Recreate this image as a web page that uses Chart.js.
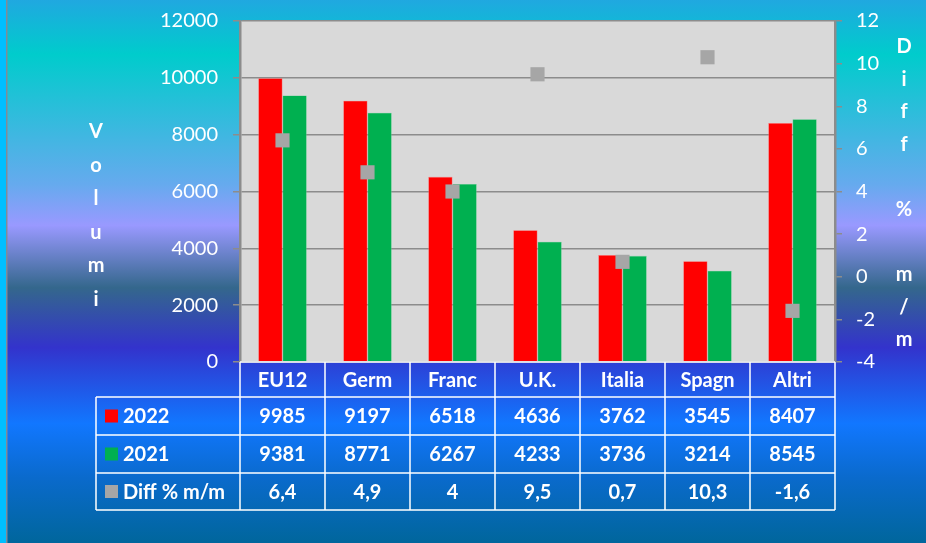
<!DOCTYPE html>
<html>
<head>
<meta charset="utf-8">
<script src="https://cdn.jsdelivr.net/npm/chart.js@4.4.1/dist/chart.umd.min.js"></script>
<style>
  html, body { margin: 0; padding: 0; background: #0066a0; }
  #wrap { width: 926px; height: 543px; position: relative; }
</style>
</head>
<body>
<div id="wrap"><canvas id="c" width="926" height="543"></canvas></div>
<script>
const categories = ["EU12", "Germ", "Franc", "U.K.", "Italia", "Spagn", "Altri"];
const vol2022 = [9985, 9197, 6518, 4636, 3762, 3545, 8407];
const vol2021 = [9381, 8771, 6267, 4233, 3736, 3214, 8545];
const diffPct = [6.4, 4.9, 4, 9.5, 0.7, 10.3, -1.6];
const diffLabels = ["6,4", "4,9", "4", "9,5", "0,7", "10,3", "-1,6"];
const leftTitle = "Volumi";
const rightTitle = "Diff % m/m";

const FONT = "Lato, 'Open Sans', sans-serif";

// sfondo sfumato + area del grafico grigia
const backgroundPlugin = {
  id: "bg",
  beforeDraw(chart) {
    const { ctx, width, height, chartArea: a } = chart;
    const g = ctx.createLinearGradient(0, 0, 0, height);
    g.addColorStop(0, "#20a8e0");
    g.addColorStop(0.10, "#00cccc");
    g.addColorStop(0.34, "#66aaee");
    g.addColorStop(0.415, "#9999ff");
    g.addColorStop(0.53, "#34678c");
    g.addColorStop(0.64, "#3333cc");
    g.addColorStop(0.78, "#1177ff");
    g.addColorStop(0.88, "#0a6acc");
    g.addColorStop(1, "#00669c");
    ctx.save();
    ctx.fillStyle = g;
    ctx.fillRect(0, 0, width, height);
    ctx.fillStyle = "#00bfff";
    ctx.fillRect(0, 0, 6, height);
    ctx.fillStyle = "#7f8c99";
    ctx.fillRect(6, 0, 1.5, height);
    ctx.fillStyle = "#d9d9d9";
    ctx.fillRect(a.left, a.top, a.right - a.left, a.bottom - a.top);
    ctx.restore();
  }
};

// titoli verticali lettera per lettera + tabella dati
const tablePlugin = {
  id: "table",
  afterDraw(chart) {
    const { ctx, chartArea: a } = chart;
    const x = chart.scales.x;
    const half = (a.right - a.left) / categories.length / 2;
    ctx.save();
    ctx.fillStyle = "#ffffff";
    ctx.font = "bold 20px " + FONT;
    ctx.textAlign = "center";
    ctx.textBaseline = "alphabetic";
    leftTitle.split("").forEach((ch, i) => ctx.fillText(ch, 96, 138 + i * 33.6));
    rightTitle.split("").forEach((ch, i) => {
      if (ch !== " ") ctx.fillText(ch, 904, 53 + i * 32.6);
    });

    const rowsY = [a.bottom, 397, 435, 473, 510];
    const legendLeft = 96;
    ctx.strokeStyle = "#ffffff";
    ctx.lineWidth = 1.5;
    ctx.beginPath();
    ctx.moveTo(a.left, rowsY[0]); ctx.lineTo(a.right, rowsY[0]);
    for (let r = 1; r < rowsY.length; r++) {
      ctx.moveTo(legendLeft, rowsY[r]); ctx.lineTo(a.right, rowsY[r]);
    }
    ctx.moveTo(legendLeft, rowsY[1]); ctx.lineTo(legendLeft, rowsY[4]);
    for (let i = 0; i <= categories.length; i++) {
      const px = a.left + i * half * 2;
      ctx.moveTo(px, rowsY[0]); ctx.lineTo(px, rowsY[4]);
    }
    ctx.stroke();

    ctx.textBaseline = "middle";
    const rows = [categories, vol2022.map(String), vol2021.map(String), diffLabels];
    rows.forEach((row, r) => {
      const cy = (rowsY[r] + rowsY[r + 1]) / 2 + 1;
      row.forEach((txt, i) => ctx.fillText(txt, x.getPixelForValue(i), cy));
    });

    const legend = [["2022", "#ff0000"], ["2021", "#00b050"], ["Diff % m/m", "#a6a6a6"]];
    ctx.textAlign = "left";
    legend.forEach(([txt, col], r) => {
      const cy = (rowsY[r + 1] + rowsY[r + 2]) / 2;
      ctx.fillStyle = col;
      ctx.fillRect(105, cy - 6.5, 13, 13);
      ctx.fillStyle = "#ffffff";
      ctx.fillText(txt, 123, cy + 1);
    });
    ctx.restore();
  }
};

new Chart(document.getElementById("c"), {
  data: {
    labels: categories,
    datasets: [
      {
        type: "line",
        label: "Diff % m/m",
        data: diffPct,
        yAxisID: "y1",
        showLine: false,
        pointStyle: "rect",
        pointRadius: 10,
        pointHoverRadius: 10,
        pointBackgroundColor: "#a6a6a6",
        pointBorderColor: "#a6a6a6",
        pointBorderWidth: 0,
        order: 0
      },
      {
        type: "bar",
        label: "2022",
        data: vol2022,
        yAxisID: "y",
        backgroundColor: "#ff0000",
        borderColor: "#ff6666",
        borderWidth: 0.6,
        categoryPercentage: 0.57,
        barPercentage: 1,
        order: 1
      },
      {
        type: "bar",
        label: "2021",
        data: vol2021,
        yAxisID: "y",
        backgroundColor: "#00b050",
        borderColor: "#55cc88",
        borderWidth: 0.6,
        categoryPercentage: 0.57,
        barPercentage: 1,
        order: 1
      }
    ]
  },
  options: {
    responsive: false,
    animation: false,
    layout: { padding: { left: 0, right: 0, top: 21, bottom: 181 } },
    plugins: {
      legend: { display: false },
      tooltip: { enabled: false }
    },
    scales: {
      x: {
        display: false,
        offset: true
      },
      y: {
        position: "left",
        min: 0,
        max: 12000,
        afterFit(scale) { scale.width = 240; },
        ticks: {
          stepSize: 2000,
          color: "#ffffff",
          padding: 15,
          font: { family: FONT, size: 20, lineHeight: 0.5 },
          callback: (v) => String(v)
        },
        grid: {
          color: "#8c8c8c",
          lineWidth: 1.5,
          tickLength: 7
        },
        border: { color: "#8c8c8c", width: 2.5 }
      },
      y1: {
        position: "right",
        min: -4,
        max: 12,
        afterFit(scale) { scale.width = 91; },
        ticks: {
          stepSize: 2,
          color: "#ffffff",
          padding: 14,
          font: { family: FONT, size: 20, lineHeight: 0.5 },
          callback: (v) => String(v)
        },
        grid: {
          drawOnChartArea: false,
          color: "#8c8c8c",
          lineWidth: 1.5,
          tickLength: 7
        },
        border: { color: "#8c8c8c", width: 2.5 }
      }
    }
  },
  plugins: [backgroundPlugin, tablePlugin]
});
</script>
</body>
</html>
